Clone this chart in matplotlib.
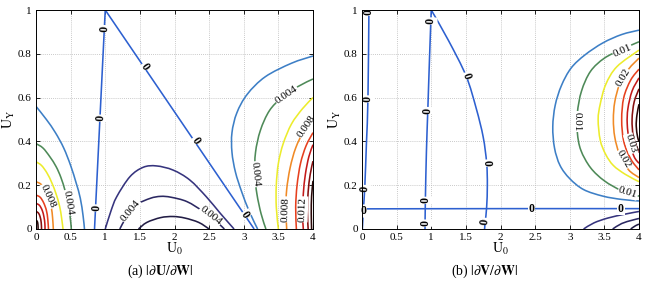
import numpy as np
import matplotlib
matplotlib.use('Agg')
import matplotlib.pyplot as plt
from matplotlib.path import Path
from matplotlib.patches import PathPatch

plt.rcParams['font.family'] = ['Liberation Serif', 'DejaVu Serif']
plt.rcParams['mathtext.fontset'] = 'stix'

# ---------------- colours per contour level ----------------
COL = {
    'n3': '#221d45', 'n2': '#2b2862', 'n1': '#36347e',
    'zero': '#2d60d0', 'blue': '#3d7fc6', 'green': '#4e8a58',
    'yellow': '#ecec2c', 'orange': '#f08a26', 'red1': '#e6401e',
    'red2': '#c41a1a', 'dark': '#860f0f', 'black': '#2a0808',
}

# ---------------- panel (a): |dU/dW| ----------------
a_zero = [(0.845, 0.0), (1.0, 1.0), (3.15, 0.0)]
a_zero_labels = [(0.87, 0.096), (0.93, 0.506), (0.99, 0.915), (1.57, 0.742), (2.30, 0.404), (3.02, 0.065)]

# lower-left group
a_ll_blue = [(0, 0.56), (0.15, 0.50), (0.28, 0.44), (0.40, 0.37), (0.50, 0.29), (0.58, 0.21), (0.64, 0.14), (0.68, 0.06), (0.70, 0)]
a_ll_green = [(0, 0.39), (0.1, 0.37), (0.2, 0.33), (0.29, 0.285), (0.36, 0.235), (0.42, 0.175), (0.46, 0.12), (0.49, 0.065), (0.51, 0)]
a_ll_yellow = [(0, 0.307), (0.08, 0.29), (0.16, 0.255), (0.23, 0.21), (0.29, 0.16), (0.34, 0.105), (0.37, 0.05), (0.39, 0)]
a_ll_orange = [(0, 0.216), (0.07, 0.205), (0.13, 0.18), (0.18, 0.145), (0.22, 0.10), (0.24, 0.05), (0.25, 0)]
a_ll_red1 = [(0, 0.155), (0.06, 0.145), (0.11, 0.12), (0.15, 0.085), (0.17, 0.045), (0.18, 0)]
a_ll_red2 = [(0, 0.117), (0.05, 0.108), (0.09, 0.085), (0.115, 0.055), (0.128, 0.025), (0.13, 0)]
a_ll_dark = [(0, 0.08), (0.035, 0.073), (0.06, 0.055), (0.075, 0.03), (0.08, 0)]
a_ll_black = [(0, 0.04), (0.018, 0.035), (0.028, 0.02), (0.03, 0)]

# middle (negative) group
a_mid_n1 = [(1.0, 0), (1.08, 0.08), (1.165, 0.147), (1.357, 0.239), (1.55, 0.282), (1.74, 0.288), (1.98, 0.269), (2.22, 0.224), (2.46, 0.147), (2.66, 0.072), (2.86, 0)]
a_mid_n2 = [(1.21, 0), (1.31, 0.056), (1.45, 0.11), (1.65, 0.14), (1.80, 0.149), (1.95, 0.145), (2.18, 0.125), (2.42, 0.079), (2.60, 0.035), (2.72, 0)]
a_mid_n3 = [(1.48, 0), (1.6, 0.03), (1.8, 0.052), (1.98, 0.057), (2.15, 0.05), (2.35, 0.03), (2.50, 0)]

# right group
a_r_blue = [(4.0, 0.79), (3.69, 0.757), (3.31, 0.695), (3.05, 0.615), (2.90, 0.53), (2.83, 0.44), (2.83, 0.35), (2.88, 0.26), (2.97, 0.17), (3.08, 0.08), (3.20, 0)]
a_r_green = [(4.0, 0.685), (3.78, 0.65), (3.55, 0.60), (3.37, 0.54), (3.24, 0.45), (3.17, 0.35), (3.16, 0.25), (3.19, 0.16), (3.25, 0.07), (3.32, 0)]
a_r_yellow = [(4.0, 0.60), (3.85, 0.55), (3.69, 0.48), (3.57, 0.39), (3.50, 0.30), (3.47, 0.20), (3.47, 0.10), (3.50, 0)]
a_r_orange = [(4.0, 0.51), (3.87, 0.45), (3.75, 0.37), (3.67, 0.28), (3.62, 0.18), (3.61, 0.09), (3.62, 0)]
a_r_red1 = [(4.0, 0.44), (3.90, 0.38), (3.82, 0.30), (3.77, 0.20), (3.75, 0.10), (3.76, 0)]
a_r_red2 = [(4.0, 0.385), (3.94, 0.33), (3.89, 0.25), (3.86, 0.16), (3.85, 0.07), (3.86, 0)]
a_r_dark = [(4.0, 0.31), (3.96, 0.25), (3.93, 0.17), (3.92, 0.08), (3.93, 0)]
a_r_black = [(4.0, 0.22), (3.98, 0.15), (3.975, 0.07), (3.98, 0)]

a_label_text = ['0.008', '0.004', '0.004', '0.004', '0.004', '0.004', '0.008', '0.008', '0.012']
a_label_pos = [(0.17, 0.15), (0.465, 0.12), (1.36, 0.085), (2.52, 0.06), (3.62, 0.612), (3.165, 0.25), (3.90, 0.47), (3.61, 0.09), (3.855, 0.09)]

# ---------------- panel (b): |dV/dW| ----------------
b_zero_1 = [(0.005, 0), (0.02, 0.09), (0.04, 0.19), (0.065, 0.40), (0.086, 0.594), (0.10, 1.0)]
b_zero_2 = [(0.91, 0), (0.915, 0.13), (0.93, 0.35), (0.95, 0.54), (0.975, 0.78), (1.0, 1.0)]
b_zero_3 = [(1.0, 1.0), (1.25, 0.86), (1.503, 0.699), (1.65, 0.55), (1.75, 0.42), (1.80, 0.301), (1.81, 0.2), (1.80, 0.1), (1.78, 0.035), (1.77, 0)]
b_zero_4 = [(0, 0.092), (2.0, 0.093), (4.0, 0.093)]
b_zero_labels = [(0.098, 0.99), (0.086, 0.594), (0.04, 0.185), (0.02, 0.082), (0.917, 0.027), (0.917, 0.131), (0.951, 0.541), (0.995, 0.95),
                 (1.503, 0.699), (1.80, 0.301), (1.777, 0.035), (2.45, 0.093), (3.74, 0.093)]

b_blue = [(4, 0.908), (3.75, 0.888), (3.48, 0.85), (3.22, 0.795), (3.02, 0.735), (2.88, 0.655), (2.79, 0.565), (2.755, 0.467), (2.78, 0.37), (2.86, 0.29), (3.0, 0.23), (3.2, 0.18), (3.48, 0.15), (3.75, 0.135), (4, 0.128)]
b_green = [(4, 0.855), (3.75, 0.82), (3.5, 0.78), (3.3, 0.72), (3.17, 0.63), (3.11, 0.53), (3.11, 0.44), (3.16, 0.36), (3.3, 0.28), (3.5, 0.22), (3.75, 0.175), (4, 0.15)]
b_yellow = [(4, 0.817), (3.68, 0.741), (3.52, 0.66), (3.44, 0.57), (3.41, 0.50), (3.44, 0.406), (3.52, 0.34), (3.63, 0.29), (3.8, 0.25), (4, 0.216)]
b_orange = [(4, 0.78), (3.85, 0.73), (3.72, 0.66), (3.65, 0.58), (3.63, 0.50), (3.65, 0.42), (3.72, 0.34), (3.85, 0.27), (4, 0.235)]
b_red1 = [(4, 0.73), (3.88, 0.68), (3.78, 0.6), (3.75, 0.5), (3.78, 0.4), (3.88, 0.32), (4, 0.27)]
b_red2 = [(4, 0.69), (3.9, 0.63), (3.84, 0.55), (3.83, 0.48), (3.86, 0.40), (3.93, 0.33), (4, 0.30)]
b_dark = [(4, 0.64), (3.93, 0.58), (3.90, 0.50), (3.92, 0.42), (4, 0.35)]
b_black = [(4, 0.57), (3.97, 0.52), (3.96, 0.47), (3.98, 0.42), (4, 0.40)]
b_n1 = [(3.2, 0), (3.35, 0.028), (3.55, 0.05), (3.8, 0.068), (4, 0.08)]
b_n2 = [(3.62, 0), (3.75, 0.025), (3.9, 0.04), (4, 0.048)]
b_n3 = [(3.88, 0), (3.95, 0.015), (4, 0.022)]

b_label_text = ['0.01', '0.01', '0.01', '0.02', '0.02', '0.03']
b_label_pos = [(3.76, 0.815), (3.11, 0.49), (3.84, 0.165), (3.77, 0.69), (3.78, 0.32), (3.88, 0.39)]

xticks = [0, 0.5, 1, 1.5, 2, 2.5, 3, 3.5, 4]
xticklabels = ['0', '0.5', '1', '1.5', '2', '2.5', '3', '3.5', '4']
yticks = [0, 0.2, 0.4, 0.6, 0.8, 1]
yticklabels = ['0', '0.2', '0.4', '0.6', '0.8', '1']
captions = [r'(a) $|\partial\mathbf{U}/\partial\mathbf{W}|$', r'(b) $|\partial\mathbf{V}/\partial\mathbf{W}|$']

# ---------------- drawing ----------------
fig = plt.figure(figsize=(6.45, 2.99), dpi=100)
W, H = 645.0, 299.0
ax_a = fig.add_axes([36 / W, 70 / H, 277 / W, 219 / H])
ax_b = fig.add_axes([362 / W, 70 / H, 277 / W, 219 / H])


def setup(ax):
    ax.set_xlim(0, 4)
    ax.set_ylim(0, 1)
    ax.set_xticks(xticks)
    ax.set_xticklabels(xticklabels)
    ax.set_yticks(yticks)
    ax.set_yticklabels(yticklabels)
    ax.tick_params(direction='in', length=3, width=0.6, labelsize=8, pad=3, top=True, right=True)
    ax.grid(True, linestyle=(0, (1, 1.5)), color='#b8b8b8', linewidth=0.6)
    for s in ax.spines.values():
        s.set_linewidth(0.7)
        s.set_zorder(8)
    ax.set_xlabel(r'$\mathrm{U_0}$', fontsize=10, labelpad=-1)
    ax.set_ylabel(r'$\mathrm{U_Y}$', fontsize=10, labelpad=1)


def curve(ax, pts, color, lw=1.15, z=3, smooth=True):
    p = np.array(pts, dtype=float)
    if not smooth or len(p) < 3:
        ax.plot(p[:, 0], p[:, 1], color=color, lw=lw, zorder=z, solid_capstyle='butt')
        return
    # smooth rendering through the read points (Catmull-Rom as cubic Bezier segments)
    verts = [tuple(p[0])]
    codes = [Path.MOVETO]
    n = len(p)
    for i in range(n - 1):
        p0 = p[i - 1] if i > 0 else p[i]
        p1, p2 = p[i], p[i + 1]
        p3 = p[i + 2] if i + 2 < n else p[i + 1]
        c1 = p1 + (p2 - p0) / 6.0
        c2 = p2 - (p3 - p1) / 6.0
        verts += [tuple(c1), tuple(c2), tuple(p2)]
        codes += [Path.CURVE4] * 3
    ax.add_patch(PathPatch(Path(verts, codes), fc='none', ec=color, lw=lw, zorder=z,
                           capstyle='butt'))


def angle_at(ax, pts, x, y):
    p = ax.transData.transform(np.array(pts))
    q = ax.transData.transform((x, y))
    mids = (p[1:] + p[:-1]) / 2
    i = int(np.argmin(np.hypot(*(mids - q).T)))
    d = p[i + 1] - p[i]
    ang = np.degrees(np.arctan2(d[1], d[0]))
    if ang > 90:
        ang -= 180
    if ang < -90:
        ang += 180
    return ang


def clabel(ax, pts, x, y, txt, fs=8, weight='normal'):
    ang = angle_at(ax, pts, x, y)
    ax.text(x, y, txt, rotation=ang, rotation_mode='anchor', ha='center', va='center',
            fontsize=fs, zorder=6, fontweight=weight,
            bbox=dict(boxstyle='square,pad=0.05', fc='white', ec='none'))


for ax in (ax_a, ax_b):
    setup(ax)

# panel a
a_curves = [
    (a_ll_blue, 'blue'), (a_ll_green, 'green'), (a_ll_yellow, 'yellow'), (a_ll_orange, 'orange'),
    (a_ll_red1, 'red1'), (a_ll_red2, 'red2'), (a_ll_dark, 'dark'), (a_ll_black, 'black'),
    (a_mid_n1, 'n1'), (a_mid_n2, 'n2'), (a_mid_n3, 'n3'),
    (a_r_blue, 'blue'), (a_r_green, 'green'), (a_r_yellow, 'yellow'), (a_r_orange, 'orange'),
    (a_r_red1, 'red1'), (a_r_red2, 'red2'), (a_r_dark, 'dark'), (a_r_black, 'black'),
]
for pts, c in a_curves:
    curve(ax_a, pts, COL[c])
curve(ax_a, a_zero, COL['zero'], smooth=False)
a_label_curves = [a_ll_orange, a_ll_green, a_mid_n2, a_mid_n2, a_r_green, a_r_green, a_r_orange, a_r_orange, a_r_red2]
for txt, (x, y), pts in zip(a_label_text, a_label_pos, a_label_curves):
    clabel(ax_a, pts, x, y, txt)
for (x, y) in a_zero_labels:
    clabel(ax_a, a_zero, x, y, '0', fs=8.5, weight='bold')

# panel b
b_curves = [
    (b_blue, 'blue'), (b_green, 'green'), (b_yellow, 'yellow'), (b_orange, 'orange'),
    (b_red1, 'red1'), (b_red2, 'red2'), (b_dark, 'dark'), (b_black, 'black'),
    (b_n1, 'n1'), (b_n2, 'n2'), (b_n3, 'n3'),
    (b_zero_1, 'zero'), (b_zero_2, 'zero'), (b_zero_3, 'zero'), (b_zero_4, 'zero'),
]
for pts, c in b_curves:
    curve(ax_b, pts, COL[c])
b_label_curves = [b_green, b_green, b_green, b_orange, b_orange, b_red2]
for txt, (x, y), pts in zip(b_label_text, b_label_pos, b_label_curves):
    clabel(ax_b, pts, x, y, txt)
zero_b_sets = [b_zero_1] * 3 + [b_zero_4] + [b_zero_2] * 4 + [b_zero_3] * 3 + [b_zero_4] * 2
for (x, y), pts in zip(b_zero_labels, zero_b_sets):
    clabel(ax_b, pts, x, y, '0', fs=8.5, weight='bold')

fig.text(160 / W, 1 - 271 / H, captions[0], ha='center', va='center', fontsize=10)
fig.text(484 / W, 1 - 271 / H, captions[1], ha='center', va='center', fontsize=10)

fig.savefig('out.png', dpi=100)
